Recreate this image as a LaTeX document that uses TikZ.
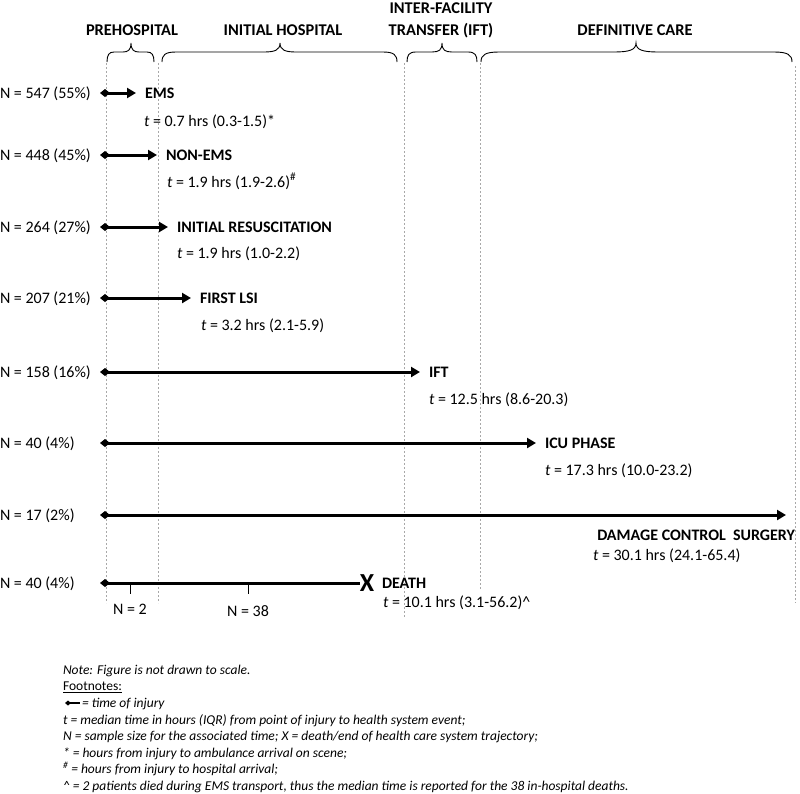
\documentclass[tikz,border=0pt]{standalone}
\usepackage{fontspec}
\setmainfont{Carlito}
\usepackage{xcolor}
\usepackage{tikz}
\usetikzlibrary{positioning,arrows.meta}
\definecolor{guidegr}{HTML}{A8A8A8}

\begin{document}
\begin{tikzpicture}[x=1pt,y=-1pt,
  every node/.style={inner sep=0pt,outer sep=0pt},
  nlbl/.style={anchor=base west,font=\fontsize{16}{19}\selectfont},
  evt/.style={anchor=base west,font=\fontsize{16}{19}\selectfont\bfseries},
  tlbl/.style={anchor=base west,font=\fontsize{16}{19}\selectfont},
  phase/.style={anchor=base,font=\fontsize{16.4}{19.5}\selectfont\bfseries},
  track/.style={line width=3pt,{Diamond[length=10pt,width=8pt]}-{Triangle[length=9pt,width=10pt]},shorten >=9pt},
  guide/.style={guidegr,line width=0.7pt,dash pattern=on 2pt off 2pt},
  brc/.style={line width=0.9pt},
  foot/.style={anchor=north west,align=left,font=\fontsize{13.5}{16.6}\selectfont\itshape}]
  \useasboundingbox (0,0) rectangle (800,793);
  % phases
  \node[phase] (ph1) at (132,35){PREHOSPITAL};
  \node[phase] (ph2) at (283,35){INITIAL HOSPITAL};
  \node[phase] (ph3a) at (441,13){INTER-FACILITY};
  \node[phase] (ph3) at (441,35){TRANSFER (IFT)};
  \node[phase] (ph4) at (635,35){DEFINITIVE CARE};
  \draw[brc] (107,62) .. controls (107,55) and (109,52) .. (114,52) -- (123,52) .. controls (128,52) and (131,50) .. (131,43) .. controls (131,50) and (134,52) .. (139,52) -- (147,52) .. controls (152,52) and (154,55) .. (154,62);
  \draw[brc] (162,62) .. controls (162,55) and (165,52) .. (176,52) -- (264,52) .. controls (275,52) and (280,50) .. (280,43) .. controls (280,50) and (285,52) .. (296,52) -- (383,52) .. controls (394,52) and (397,55) .. (397,62);
  \draw[brc] (407,62) .. controls (407,55) and (409,52) .. (416,52) -- (432,52) .. controls (439,52) and (442,50) .. (442,43) .. controls (442,50) and (445,52) .. (452,52) -- (468,52) .. controls (475,52) and (477,55) .. (477,62);
  \draw[brc] (481,62) .. controls (481,55) and (485,52) .. (499,52) -- (614,52) .. controls (629,52) and (636,50) .. (636,43) .. controls (636,50) and (643,52) .. (658,52) -- (774,52) .. controls (788,52) and (792,55) .. (792,62);
  \draw[guide] (106,63)--(106,603); \draw[guide] (158,63)--(158,603); \draw[guide] (404,63)--(404,618);
  \draw[guide] (480,63)--(480,590); \draw[guide] (795,66)--(795,603);
  % rows
  \node[nlbl] (n1) at (0,98){N = 547 (55\%)};
  \node[evt] (e1) at (145,98){EMS};
  \node[tlbl] (t1) at (144,126){\textit{t} = 0.7 hrs (0.3-1.5)*};
  \node[nlbl] (n2) at (0,160){N = 448 (45\%)};
  \node[evt] (e2) at (166,160){NON-EMS};
  \node[tlbl] (t2) at (167,187){\textit{t} = 1.9 hrs (1.9-2.6)\textsuperscript{\#}};
  \node[nlbl] (n3) at (0,232){N = 264 (27\%)};
  \node[evt] (e3) at (177,232){INITIAL RESUSCITATION};
  \node[tlbl] (t3) at (177,258){\textit{t} = 1.9 hrs (1.0-2.2)};
  \node[nlbl] (n4) at (0,303){N = 207 (21\%)};
  \node[evt] (e4) at (200,303){FIRST LSI};
  \node[tlbl] (t4) at (201,330){\textit{t} = 3.2 hrs (2.1-5.9)};
  \node[nlbl] (n5) at (0,377){N = 158 (16\%)};
  \node[evt] (e5) at (429,377){IFT};
  \node[tlbl] (t5) at (429,404){\textit{t} = 12.5 hrs (8.6-20.3)};
  \node[nlbl] (n6) at (0,448){N = 40 (4\%)};
  \node[evt] (e6) at (545,448){ICU PHASE};
  \node[tlbl] (t6) at (545,475){\textit{t} = 17.3 hrs (10.0-23.2)};
  \node[nlbl] (n7) at (0,520){N = 17 (2\%)};
  \node[evt,anchor=base east] (e7) at (795,540){DAMAGE CONTROL\ \ SURGERY};
  \node[tlbl] (t7) at (593,560){\textit{t} = 30.1 hrs (24.1-65.4)};
  \node[nlbl] (n8) at (0,588){N = 40 (4\%)};
  \node[font=\fontsize{26}{30}\selectfont\bfseries] (x8) at (367,583){X};
  \node[evt] (e8) at (382,588){DEATH};
  \node[tlbl] (t8) at (383,607){\textit{t} = 10.1 hrs (3.1-56.2)\textasciicircum};
  \coordinate (s1) at (100,93); \coordinate (s2) at (100,155); \coordinate (s3) at (100,227); \coordinate (s4) at (100,298);
  \coordinate (s5) at (100,372); \coordinate (s6) at (100,443); \coordinate (s7) at (100,515); \coordinate (s8) at (100,583);
  \coordinate (h7) at (795,515);
  \draw[track] (s1)--(s1 -| e1.west); \draw[track] (s2)--(s2 -| e2.west); \draw[track] (s3)--(s3 -| e3.west);
  \draw[track] (s4)--(s4 -| e4.west); \draw[track] (s5)--(s5 -| e5.west); \draw[track] (s6)--(s6 -| e6.west);
  \draw[track] (s7)--(h7);
  \draw[line width=3pt,{Diamond[length=10pt,width=8pt]}-] (s8)--(x8.west);
  % deaths split
  \node[font=\fontsize{16}{19}\selectfont,anchor=base] (d1) at (130,614){N = 2};
  \node[font=\fontsize{16}{19}\selectfont,anchor=base] (d2) at (248,616){N = 38};
  \draw[line width=1pt] (130,583)--(130,594); \draw[line width=1pt] (248,583)--(248,594);
  % footnotes
  \node[foot] (notes) at (63,665){Note: Figure is not drawn to scale.\\
    \textup{\underline{Footnotes:}}\\
    \hspace*{19pt}= time of injury\\
    t = median time in hours (IQR) from point of injury to health system event;\\
    N = sample size for the associated time; X = death/end of health care system trajectory;\\
    * = hours from injury to ambulance arrival on scene;\\
    \textsuperscript{\#} = hours from injury to hospital arrival;\\
    \textasciicircum{} = 2 patients died during EMS transport, thus the median time is reported for the 38 in-hospital deaths.};
  \coordinate (k0) at (65,703); \coordinate (k1) at (80,703);
  \draw[line width=1.4pt,{Diamond[length=6pt,width=5pt]}-] (k0)--(k1);
\end{tikzpicture}
\end{document}
